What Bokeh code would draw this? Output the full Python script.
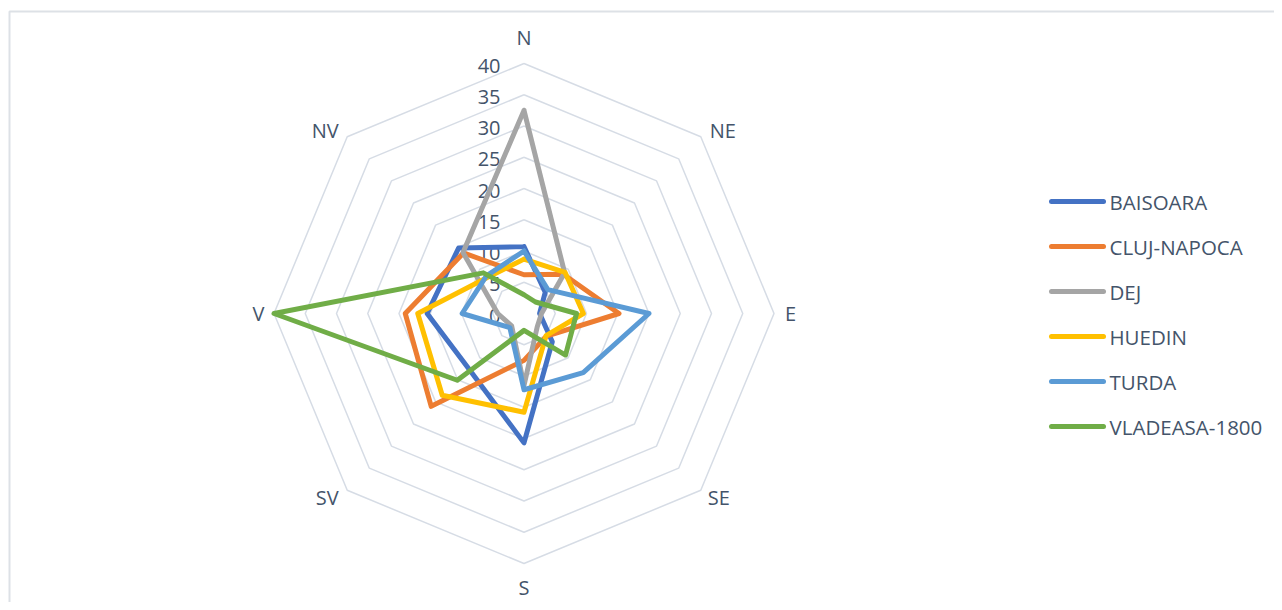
import numpy as np
from bokeh.plotting import figure
from bokeh.models import Range1d
from bokeh.embed import file_html
from bokeh.resources import INLINE
from bokeh.core.properties import value

# ---------------- data ----------------
directions = ["N", "NE", "E", "SE", "S", "SV", "V", "NV"]
series_names = ["BAISOARA", "CLUJ-NAPOCA", "DEJ", "HUEDIN", "TURDA", "VLADEASA-1800"]
baisoara = [10.7, 4.8, 2.5, 6.4, 20.7, 12.5, 15.5, 14.8]
cluj_napoca = [6.2, 8.9, 15.2, 5.1, 7.5, 21.0, 19.0, 13.7]
dej = [32.5, 9.2, 2.8, 3.0, 11.5, 2.8, 4.2, 13.8]
huedin = [8.7, 9.3, 9.5, 5.0, 15.8, 18.5, 17.0, 8.2]
turda = [10.0, 5.4, 20.0, 13.4, 12.2, 3.2, 9.9, 8.5]
vladeasa_1800 = [3.0, 2.6, 8.4, 9.4, 2.7, 15.1, 40.0, 9.2]
ring_values = [0, 5, 10, 15, 20, 25, 30, 35, 40]
ring_labels = ["0", "5", "10", "15", "20", "25", "30", "35", "40"]

series_values = [baisoara, cluj_napoca, dej, huedin, turda, vladeasa_1800]
colors = ["#4472C4", "#ED7D31", "#A5A5A5", "#FFC000", "#5B9BD5", "#70AD47"]

# ---------------- layout ----------------
W, H = 1274, 602
CX, CY = 523.5, 313.0   # pixel of chart centre (relative to figure)
UNIT = 6.25             # pixels per value unit
MAXV = 40

def px_x(px):
    return (px - CX) / UNIT

def px_y(py):
    return (CY - py) / UNIT

p = figure(width=W, height=H,
           x_range=Range1d(px_x(0), px_x(W)),
           y_range=Range1d(px_y(H), px_y(0)),
           x_axis_type=None, y_axis_type=None,
           output_backend="svg", toolbar_location=None, min_border=0)
p.grid.visible = False
p.outline_line_color = None
p.background_fill_color = "white"

TEXT_COLOR = "#44546A"
FONT = value("Open Sans")

# chart border
p.quad(left=[px_x(9)], right=[px_x(1300)], top=[px_y(11)], bottom=[px_y(700)],
       fill_color=None, line_color="#DDE1E6", line_width=2)

n = len(directions)
ang = np.pi / 2 - np.arange(n) * 2 * np.pi / n
cosa, sina = np.cos(ang), np.sin(ang)

# grid octagons
for r in ring_values[1:]:
    xs = list(r * cosa) + [r * cosa[0]]
    ys = list(r * sina) + [r * sina[0]]
    p.line(xs, ys, line_color="#D6DCE5", line_width=1.5)

# ring labels
p.text(x=[px_x(500)] * len(ring_values), y=[v - 0.35 for v in ring_values],
       text=ring_labels, text_align="right", text_baseline="middle",
       text_font=FONT, text_font_size="20px", text_color=TEXT_COLOR)

# direction labels (pixel offsets from octagon tips)
offsets = [(0, -26), (22, -6), (16.5, 0), (18, 7), (0, 24), (-20, 7), (-15.5, 0), (-22, -6)]
lx = [MAXV * cosa[i] + offsets[i][0] / UNIT for i in range(n)]
ly = [MAXV * sina[i] - offsets[i][1] / UNIT for i in range(n)]
p.text(x=lx, y=ly, text=directions, text_align="center", text_baseline="middle",
       text_font=FONT, text_font_size="20px", text_color=TEXT_COLOR)

# series
for name, vals, col in zip(series_names, series_values, colors):
    v = np.array(vals)
    xs = list(v * cosa) + [v[0] * cosa[0]]
    ys = list(v * sina) + [v[0] * sina[0]]
    p.line(xs, ys, line_color=col, line_width=5, line_join="round", line_cap="round")

# legend
row_y = [201 + 45 * i for i in range(len(series_names))]
for i, (name, col) in enumerate(zip(series_names, colors)):
    p.line([px_x(1051), px_x(1103)], [px_y(row_y[i])] * 2, line_color=col,
           line_width=5, line_cap="round")
p.text(x=[px_x(1109)] * len(series_names), y=[px_y(y) for y in row_y], text=series_names,
       text_align="left", text_baseline="middle", text_font=FONT,
       text_font_size="20.5px", text_color=TEXT_COLOR)

open("out.html", "w").write(file_html(p, INLINE))
